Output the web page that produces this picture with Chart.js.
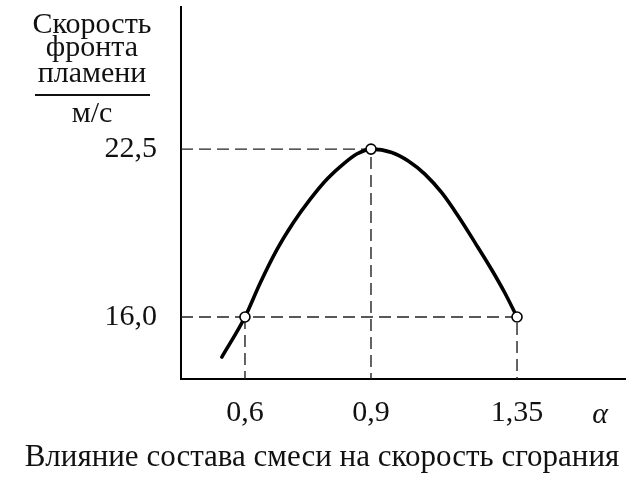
<!DOCTYPE html>
<html>
<head>
<meta charset="utf-8">
<script src="https://cdn.jsdelivr.net/npm/chart.js@4.4.0/dist/chart.umd.min.js"></script>
<style>
	body { margin: 0; background: #fff; }
	canvas { display: block; }
</style>
</head>
<body>
<canvas id="flameChart" width="640" height="480"></canvas>
<script>
// значения
var alphaValues = [0.545, 0.6, 0.636, 0.676, 0.715, 0.755, 0.795, 0.834, 0.866, 0.9, 0.964, 1.015, 1.066, 1.118, 1.169, 1.221, 1.272, 1.313, 1.35];
var speedValues = [14.45, 16.0, 17.31, 18.61, 19.65, 20.55, 21.33, 21.92, 22.31, 22.5, 22.37, 22.04, 21.53, 20.81, 19.9, 18.87, 17.83, 16.92, 16.0];
var markedAlpha = [0.6, 0.9, 1.35];
var markedSpeed = [16.0, 22.5, 16.0];
var xTicks = [0.6, 0.9, 1.35];
var yTicks = [16.0, 22.5];
var yTitleLines = ["Скорость", "фронта", "пламени"];
var yUnit = "м/с";
var xTitle = "α";
var chartTitle = "Влияние состава смеси на скорость сгорания";

var X_MIN = 0.448, X_MAX = 1.683;
var Y_MIN = 13.6, Y_MAX = 28;
var serif = "'Liberation Serif', 'DejaVu Serif', serif";

// ось α на рисунке схематичная: деления стоят не пропорционально,
// поэтому шкала кусочно-линейная между узлами
class SchematicScale extends Chart.LinearScale {
	_toDecimal(value) {
		var knots = this.options.knots, pos = this.options.knotPos;
		var i = 1;
		while (i < knots.length - 1 && value > knots[i]) i++;
		var t = (value - knots[i - 1]) / (knots[i] - knots[i - 1]);
		return pos[i - 1] + t * (pos[i] - pos[i - 1]);
	}
	_fromDecimal(dec) {
		var knots = this.options.knots, pos = this.options.knotPos;
		var i = 1;
		while (i < pos.length - 1 && dec > pos[i]) i++;
		var t = (dec - pos[i - 1]) / (pos[i] - pos[i - 1]);
		return knots[i - 1] + t * (knots[i] - knots[i - 1]);
	}
	getPixelForValue(value) {
		return this.getPixelForDecimal(this._toDecimal(value));
	}
	getValueForPixel(pixel) {
		return this._fromDecimal(this.getDecimalForPixel(pixel));
	}
}
SchematicScale.id = "schematic";
SchematicScale.defaults = Chart.LinearScale.defaults;
Chart.register(SchematicScale);

function toPoints(xs, ys) {
	var pts = [];
	for (var i = 0; i < xs.length; i++) {
		pts.push({ x: xs[i], y: ys[i] });
	}
	return pts;
}

function commaNumber(v, digits) {
	var s = digits === undefined ? String(v) : v.toFixed(digits);
	return s.replace(".", ",");
}

// пунктирные выноски от точек к осям
function guideLine(points) {
	return {
		data: points,
		borderColor: "#222",
		borderWidth: 1.4,
		borderDash: [12, 6],
		pointRadius: 0,
		fill: false,
		tension: 0
	};
}

var guides = [];
for (var i = 0; i < markedAlpha.length; i++) {
	var px = markedAlpha[i], py = markedSpeed[i];
	var pts = [];
	// горизонталь нужна только для уровней, где точка крайняя справа
	var isRightmost = true;
	for (var j = 0; j < markedAlpha.length; j++) {
		if (markedSpeed[j] === py && markedAlpha[j] > px) isRightmost = false;
	}
	if (isRightmost) pts.push({ x: X_MIN, y: py });
	pts.push({ x: px, y: py });
	pts.push({ x: px, y: Y_MIN });
	guides.push(guideLine(pts));
}

var labelPlugin = {
	id: "labelPlugin",
	afterDraw: function (chart) {
		var ctx = chart.ctx;
		ctx.save();
		ctx.fillStyle = "#111";
		ctx.font = "30px " + serif;
		ctx.textAlign = "center";
		ctx.textBaseline = "alphabetic";
		var baselines = [33, 56, 82];
		for (var i = 0; i < yTitleLines.length; i++) {
			ctx.fillText(yTitleLines[i], 92, baselines[i]);
		}
		ctx.strokeStyle = "#111";
		ctx.lineWidth = 2;
		ctx.beginPath();
		ctx.moveTo(35, 95);
		ctx.lineTo(150, 95);
		ctx.stroke();
		ctx.fillText(yUnit, 92, 122);

		ctx.font = "italic 30px " + serif;
		ctx.fillText(xTitle, 600, 423);

		ctx.font = "31px " + serif;
		ctx.textBaseline = "middle";
		ctx.fillText(chartTitle, 322, 458);
		ctx.restore();
	}
};

var chartCtx = document.getElementById("flameChart");
var myChart = new Chart(chartCtx, {
	type: "line",
	data: {
		datasets: [
			{
				data: toPoints(markedAlpha, markedSpeed),
				showLine: false,
				pointRadius: 5,
				pointBorderWidth: 1.6,
				pointBackgroundColor: "#fff",
				pointBorderColor: "#000"
			},
			{
				data: toPoints(alphaValues, speedValues),
				borderColor: "#000",
				borderWidth: 3.6,
				borderCapStyle: "round",
				pointRadius: 0,
				cubicInterpolationMode: "monotone",
				fill: false
			}
		].concat(guides)
	},
	options: {
		responsive: false,
		animation: false,
		devicePixelRatio: 1,
		layout: { autoPadding: false, padding: { left: 0, right: 15, top: 7, bottom: 0 } },
		plugins: {
			legend: { display: false },
			tooltip: { enabled: false },
			title: { display: false }
		},
		scales: {
			x: {
				type: "schematic",
				min: X_MIN,
				max: X_MAX,
				knots: [X_MIN, 0.6, 0.9, 1.35, X_MAX],
				knotPos: [0, 0.1441, 0.4279, 0.7568, 1],
				afterBuildTicks: function (scale) {
					scale.ticks = xTicks.map(function (v) { return { value: v }; });
				},
				afterFit: function (scale) {
					scale.height = 101;
					scale.paddingLeft = 0;
					scale.paddingRight = 0;
				},
				grid: { display: false, drawTicks: false },
				border: { display: true, color: "#000", width: 2 },
				ticks: {
					color: "#111",
					padding: 16,
					maxRotation: 0,
					autoSkip: false,
					font: { family: serif, size: 30 },
					callback: function (v) { return commaNumber(v); }
				}
			},
			y: {
				type: "linear",
				min: Y_MIN,
				max: Y_MAX,
				afterBuildTicks: function (scale) {
					scale.ticks = yTicks.map(function (v) { return { value: v }; });
				},
				afterFit: function (scale) {
					scale.width = 181;
					scale.paddingTop = 0;
					scale.paddingBottom = 0;
				},
				grid: { display: false, drawTicks: false },
				border: { display: true, color: "#000", width: 2 },
				ticks: {
					color: "#111",
					padding: 24,
					font: { family: serif, size: 30 },
					callback: function (v) { return commaNumber(v, 1); }
				}
			}
		}
	},
	plugins: [labelPlugin]
});
</script>
</body>
</html>
